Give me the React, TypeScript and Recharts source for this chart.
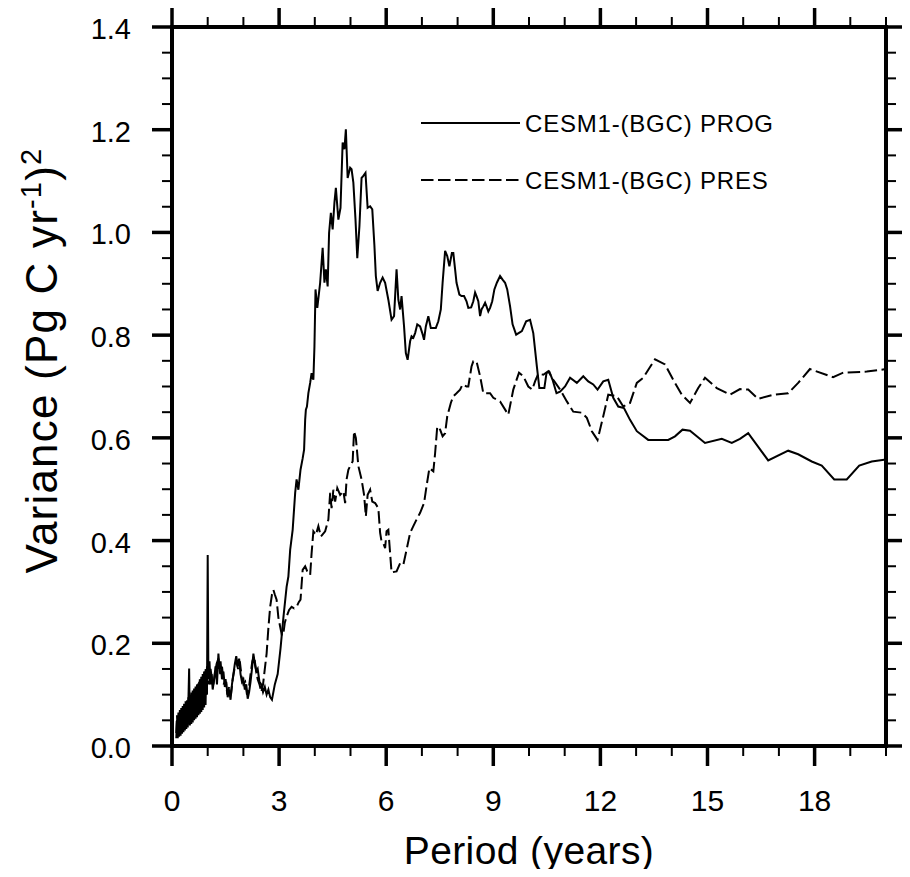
import { Legend, Line, LineChart, ReferenceArea, XAxis, YAxis } from 'recharts'

const FONT = '"Liberation Sans", Arial, Helvetica, sans-serif'

// [period (years), variance (Pg C yr^-1)^2]
const progPoints: [number, number][] = [
  [0.12, 0.015], [0.14, 0.05], [0.16, 0.015], [0.18, 0.055], [0.2, 0.018], [0.22, 0.06], [0.24, 0.02],
  [0.26, 0.065], [0.28, 0.024], [0.3, 0.07], [0.32, 0.027], [0.34, 0.075], [0.36, 0.03], [0.38, 0.08],
  [0.4, 0.033], [0.42, 0.085], [0.44, 0.036], [0.46, 0.09], [0.48, 0.151], [0.5, 0.04], [0.52, 0.095],
  [0.54, 0.043], [0.56, 0.1], [0.58, 0.046], [0.6, 0.105], [0.62, 0.05], [0.64, 0.11], [0.66, 0.053],
  [0.68, 0.115], [0.7, 0.056], [0.72, 0.12], [0.74, 0.06], [0.76, 0.125], [0.78, 0.063], [0.8, 0.13],
  [0.82, 0.066], [0.84, 0.135], [0.86, 0.07], [0.88, 0.14], [0.9, 0.075], [0.92, 0.145], [0.94, 0.08],
  [0.96, 0.15], [0.98, 0.1], [1.0, 0.372], [1.02, 0.13], [1.05, 0.165], [1.08, 0.12], [1.11, 0.14],
  [1.14, 0.11], [1.18, 0.13], [1.22, 0.155], [1.26, 0.12], [1.3, 0.18], [1.33, 0.15], [1.36, 0.165],
  [1.4, 0.13], [1.44, 0.145], [1.48, 0.115], [1.52, 0.125], [1.56, 0.095], [1.6, 0.11], [1.64, 0.09],
  [1.68, 0.12], [1.72, 0.14], [1.76, 0.16], [1.8, 0.175], [1.84, 0.155], [1.88, 0.17], [1.92, 0.14],
  [1.96, 0.125], [2.0, 0.13], [2.04, 0.11], [2.08, 0.12], [2.12, 0.092], [2.16, 0.105], [2.2, 0.125],
  [2.24, 0.15], [2.28, 0.18], [2.32, 0.16], [2.36, 0.145], [2.4, 0.15], [2.45, 0.125], [2.5, 0.12],
  [2.55, 0.105], [2.6, 0.115], [2.65, 0.1], [2.7, 0.11], [2.75, 0.095], [2.8, 0.09], [2.88, 0.12],
  [2.96, 0.14], [3.04, 0.19], [3.12, 0.25], [3.21, 0.31], [3.26, 0.33], [3.31, 0.382], [3.38, 0.421],
  [3.45, 0.493], [3.49, 0.519], [3.54, 0.499], [3.6, 0.538], [3.66, 0.56], [3.7, 0.577], [3.73, 0.635],
  [3.75, 0.655], [3.78, 0.661], [3.82, 0.687], [3.87, 0.707], [3.91, 0.726], [3.96, 0.713], [3.99, 0.778],
  [4.02, 0.889], [4.07, 0.853], [4.15, 0.902], [4.19, 0.941], [4.22, 0.97], [4.27, 0.902], [4.31, 0.928],
  [4.36, 0.895], [4.4, 0.999], [4.45, 1.038], [4.5, 1.006], [4.55, 1.058], [4.59, 1.087], [4.66, 1.025],
  [4.72, 1.048], [4.78, 1.175], [4.83, 1.162], [4.87, 1.201], [4.92, 1.106], [4.99, 1.126], [5.03, 1.123],
  [5.08, 1.097], [5.14, 1.025], [5.19, 0.95], [5.25, 1.012], [5.31, 1.106], [5.36, 1.11], [5.42, 1.116],
  [5.48, 1.048], [5.55, 1.051], [5.61, 1.045], [5.67, 0.974], [5.71, 0.915], [5.76, 0.886], [5.83, 0.902],
  [5.9, 0.912], [5.97, 0.902], [6.06, 0.869], [6.15, 0.83], [6.22, 0.837], [6.29, 0.928], [6.34, 0.869],
  [6.39, 0.85], [6.43, 0.876], [6.5, 0.817], [6.55, 0.765], [6.6, 0.752], [6.67, 0.788], [6.71, 0.798],
  [6.76, 0.795], [6.81, 0.804], [6.87, 0.821], [6.95, 0.817], [7.01, 0.804], [7.06, 0.791], [7.11, 0.817],
  [7.18, 0.837], [7.25, 0.814], [7.32, 0.814], [7.39, 0.814], [7.46, 0.827], [7.53, 0.85], [7.58, 0.902],
  [7.65, 0.964], [7.71, 0.954], [7.77, 0.934], [7.84, 0.96], [7.88, 0.96], [7.93, 0.928], [7.97, 0.902],
  [8.05, 0.879], [8.11, 0.876], [8.18, 0.876], [8.25, 0.866], [8.3, 0.853], [8.38, 0.854], [8.44, 0.866],
  [8.49, 0.883], [8.53, 0.876], [8.58, 0.866], [8.63, 0.837], [8.67, 0.85], [8.72, 0.856], [8.77, 0.863],
  [8.81, 0.856], [8.86, 0.846], [8.91, 0.853], [8.97, 0.866], [9.03, 0.889], [9.1, 0.902], [9.19, 0.915],
  [9.26, 0.908], [9.33, 0.902], [9.39, 0.889], [9.47, 0.856], [9.54, 0.821], [9.64, 0.801], [9.8, 0.808],
  [9.92, 0.827], [10.03, 0.83], [10.12, 0.804], [10.22, 0.739], [10.29, 0.697], [10.43, 0.697],
  [10.49, 0.726], [10.57, 0.729], [10.66, 0.713], [10.77, 0.687], [10.87, 0.69], [11.01, 0.7],
  [11.15, 0.717], [11.34, 0.707], [11.52, 0.72], [11.66, 0.71], [11.8, 0.704], [11.92, 0.694],
  [12.08, 0.71], [12.22, 0.713], [12.36, 0.678], [12.5, 0.661], [12.66, 0.658], [12.83, 0.635],
  [13.02, 0.613], [13.34, 0.596], [13.9, 0.596], [14.09, 0.603], [14.3, 0.616], [14.51, 0.614],
  [14.93, 0.59], [15.4, 0.598], [15.68, 0.59], [15.91, 0.598], [16.14, 0.609], [16.7, 0.556],
  [17.26, 0.575], [17.54, 0.568], [17.92, 0.554], [18.2, 0.546], [18.55, 0.519], [18.9, 0.519],
  [19.25, 0.546], [19.6, 0.554], [20.0, 0.558],
]

const presPoints: [number, number][] = [
  [0.12, 0.025], [0.14, 0.06], [0.16, 0.025], [0.18, 0.065], [0.2, 0.028], [0.22, 0.07], [0.24, 0.031],
  [0.26, 0.074], [0.28, 0.034], [0.3, 0.078], [0.32, 0.037], [0.34, 0.082], [0.36, 0.04], [0.38, 0.087],
  [0.4, 0.043], [0.42, 0.091], [0.44, 0.046], [0.46, 0.095], [0.48, 0.05], [0.5, 0.1], [0.52, 0.053],
  [0.54, 0.104], [0.56, 0.056], [0.58, 0.108], [0.6, 0.06], [0.62, 0.112], [0.64, 0.063], [0.66, 0.116],
  [0.68, 0.066], [0.7, 0.12], [0.72, 0.07], [0.74, 0.125], [0.76, 0.073], [0.78, 0.13], [0.8, 0.077],
  [0.82, 0.135], [0.84, 0.08], [0.86, 0.14], [0.88, 0.085], [0.9, 0.145], [0.92, 0.09], [0.94, 0.15],
  [0.96, 0.1], [0.98, 0.155], [1.0, 0.14], [1.04, 0.12], [1.08, 0.15], [1.12, 0.13], [1.16, 0.12],
  [1.2, 0.14], [1.25, 0.16], [1.3, 0.17], [1.35, 0.14], [1.4, 0.155], [1.45, 0.12], [1.5, 0.13],
  [1.55, 0.1], [1.6, 0.115], [1.65, 0.1], [1.7, 0.13], [1.75, 0.15], [1.8, 0.165], [1.85, 0.15],
  [1.9, 0.165], [1.95, 0.135], [2.0, 0.12], [2.05, 0.125], [2.1, 0.1], [2.15, 0.11], [2.2, 0.14],
  [2.25, 0.165], [2.3, 0.175], [2.35, 0.15], [2.4, 0.13], [2.45, 0.12], [2.5, 0.105], [2.55, 0.12],
  [2.6, 0.15], [2.65, 0.18], [2.7, 0.23], [2.75, 0.271], [2.8, 0.295], [2.84, 0.304], [2.88, 0.295],
  [2.93, 0.285], [2.98, 0.25], [3.03, 0.232], [3.08, 0.215], [3.12, 0.219], [3.16, 0.24], [3.21, 0.252],
  [3.28, 0.265], [3.35, 0.271], [3.42, 0.268], [3.49, 0.271], [3.55, 0.28], [3.6, 0.285], [3.66, 0.343],
  [3.73, 0.35], [3.79, 0.34], [3.87, 0.333], [3.91, 0.375], [3.96, 0.418], [4.03, 0.411], [4.1, 0.428],
  [4.17, 0.408], [4.29, 0.418], [4.38, 0.441], [4.43, 0.493], [4.47, 0.463], [4.52, 0.499], [4.57, 0.476],
  [4.63, 0.502], [4.71, 0.489], [4.8, 0.496], [4.85, 0.473], [4.89, 0.519], [4.94, 0.538], [5.01, 0.548],
  [5.06, 0.554], [5.1, 0.613], [5.15, 0.6], [5.22, 0.545], [5.31, 0.519], [5.38, 0.489], [5.43, 0.447],
  [5.48, 0.489], [5.55, 0.499], [5.61, 0.476], [5.69, 0.473], [5.78, 0.463], [5.83, 0.415], [5.87, 0.398],
  [5.92, 0.395], [5.97, 0.385], [6.01, 0.418], [6.06, 0.421], [6.11, 0.375], [6.15, 0.338], [6.29, 0.34],
  [6.39, 0.356], [6.48, 0.353], [6.57, 0.382], [6.67, 0.415], [6.76, 0.428], [6.85, 0.441], [6.95, 0.454],
  [7.06, 0.473], [7.13, 0.506], [7.21, 0.541], [7.32, 0.535], [7.37, 0.57], [7.43, 0.622], [7.51, 0.616],
  [7.58, 0.603], [7.65, 0.609], [7.71, 0.642], [7.81, 0.668], [7.88, 0.681], [7.97, 0.687], [8.07, 0.694],
  [8.14, 0.704], [8.25, 0.7], [8.3, 0.7], [8.39, 0.739], [8.44, 0.749], [8.53, 0.749], [8.63, 0.72],
  [8.72, 0.687], [8.91, 0.687], [9.0, 0.678], [9.19, 0.671], [9.42, 0.645], [9.56, 0.694], [9.72, 0.727],
  [9.84, 0.72], [9.98, 0.7], [10.09, 0.694], [10.17, 0.71], [10.26, 0.725], [10.4, 0.723], [10.54, 0.73],
  [10.68, 0.713], [10.87, 0.694], [11.06, 0.671], [11.24, 0.651], [11.48, 0.649], [11.62, 0.639],
  [11.76, 0.613], [11.92, 0.596], [12.08, 0.642], [12.22, 0.684], [12.46, 0.681], [12.64, 0.661],
  [12.83, 0.668], [13.02, 0.707], [13.2, 0.717], [13.53, 0.753], [13.81, 0.743], [14.04, 0.713],
  [14.28, 0.684], [14.51, 0.668], [14.74, 0.697], [14.93, 0.717], [15.26, 0.697], [15.63, 0.684],
  [15.91, 0.695], [16.14, 0.694], [16.42, 0.676], [16.84, 0.684], [17.26, 0.687], [17.54, 0.707],
  [17.87, 0.734], [18.52, 0.718], [18.8, 0.727], [19.46, 0.729], [20.0, 0.734],
]

const seriesNames = ['CESM1-(BGC) PROG', 'CESM1-(BGC) PRES']
const xMajor = [0, 3, 6, 9, 12, 15, 18]
const yMajor = [0, 0.2, 0.4, 0.6, 0.8, 1.0, 1.2, 1.4]
// minor ticks every year / every 0.05
const xTicks = Array.from({ length: 21 }, (_, i) => i)
const yTicks = Array.from({ length: 29 }, (_, i) => Number((i * 0.05).toFixed(2)))

const progData = progPoints.map(([p, v]) => ({ p, v }))
const presData = presPoints.map(([p, v]) => ({ p, v }))

const DASH = '12.5 4.5'
const isXMajor = (v: number) => xMajor.includes(v)
const isYMajor = (v: number) => yMajor.some((m) => Math.abs(m - v) < 1e-6)

function BottomTick({ x, y, payload }: any) {
  const major = isXMajor(payload.value)
  return (
    <g>
      <line x1={x} y1={y} x2={x} y2={y + (major ? 20 : 10)} stroke="#000" strokeWidth={major ? 3.5 : 2} />
      {major && (
        <text x={x} y={y + 65} textAnchor="middle" fontSize={30} fontFamily={FONT} fill="#000">
          {payload.value}
        </text>
      )}
    </g>
  )
}

function TopTick({ x, y, payload }: any) {
  const major = isXMajor(payload.value)
  return <line x1={x} y1={y} x2={x} y2={y - (major ? 20 : 10)} stroke="#000" strokeWidth={major ? 3.5 : 2} />
}

function LeftTick({ x, y, payload }: any) {
  const major = isYMajor(payload.value)
  return (
    <g>
      <line x1={x} y1={y} x2={x - (major ? 20 : 10)} y2={y} stroke="#000" strokeWidth={major ? 3.5 : 2} />
      {major && (
        <text x={x - 41} y={y + 12} textAnchor="end" fontSize={29} fontFamily={FONT} fill="#000">
          {payload.value.toFixed(1)}
        </text>
      )}
    </g>
  )
}

function RightTick({ x, y, payload }: any) {
  const major = isYMajor(payload.value)
  return <line x1={x} y1={y} x2={x + (major ? 20 : 10)} y2={y} stroke="#000" strokeWidth={major ? 3.5 : 2} />
}

function LegendBox() {
  return (
    <svg width={420} height={90}>
      {seriesNames.map((name, i) => (
        <g key={name} transform={`translate(0, ${15 + i * 57})`}>
          <line x1={0} x2={99} y1={0} y2={0} stroke="#000" strokeWidth={2} strokeDasharray={i ? DASH : undefined} />
          <text x={104} y={0} dy="0.36em" fontSize={24} letterSpacing={0.8} fontFamily={FONT} fill="#000">
            {name}
          </text>
        </g>
      ))}
    </svg>
  )
}

function XTitle({ viewBox }: any) {
  return (
    <text
      x={viewBox.x + viewBox.width / 2}
      y={viewBox.y + 118}
      textAnchor="middle"
      fontSize={39}
      letterSpacing={0.4}
      fontFamily={FONT}
      fill="#000"
    >
      Period (years)
    </text>
  )
}

function YTitle({ viewBox }: any) {
  const cy = viewBox.y + viewBox.height / 2 - 26
  return (
    <text
      transform={`translate(49, ${cy}) rotate(-90)`}
      textAnchor="middle"
      fontSize={44}
      letterSpacing={1.2}
      fontFamily={FONT}
      fill="#000"
    >
      Variance (Pg C yr
      <tspan dy={-16} fontSize={29}>-1</tspan>
      <tspan dy={16}>)</tspan>
      <tspan dy={-16} fontSize={29}>2</tspan>
    </text>
  )
}

// axes are 1px thick so they still render; all tick marks are drawn by the tick components
const axisCommon = {
  type: 'number' as const,
  allowDataOverflow: true,
  interval: 0 as const,
  axisLine: false,
  tickLine: false,
  tickSize: 0,
  tickMargin: 0,
}

export default function App() {
  return (
    <div style={{ width: 894, height: 861 }}>
      <LineChart width={894} height={869} margin={{ top: 18, right: 15, bottom: 130, left: 163 }}>
        <XAxis
          {...axisCommon}
          xAxisId="b"
          dataKey="p"
          domain={[0, 20]}
          ticks={xTicks}
          height={1}
          tick={BottomTick}
          label={{ content: XTitle }}
        />
        <XAxis
          {...axisCommon}
          xAxisId="t"
          orientation="top"
          dataKey="p"
          domain={[0, 20]}
          ticks={xTicks}
          height={1}
          tick={TopTick}
        />
        <YAxis
          {...axisCommon}
          yAxisId="l"
          domain={[0, 1.4]}
          ticks={yTicks}
          width={1}
          tick={LeftTick}
          label={{ content: YTitle }}
        />
        <YAxis
          {...axisCommon}
          yAxisId="r"
          orientation="right"
          domain={[0, 1.4]}
          ticks={yTicks}
          width={1}
          tick={RightTick}
        />
        <Line
          xAxisId="b"
          yAxisId="l"
          name={seriesNames[0]}
          data={progData}
          dataKey="v"
          type="linear"
          stroke="#000"
          strokeWidth={2}
          dot={false}
          isAnimationActive={false}
        />
        <Line
          xAxisId="t"
          yAxisId="r"
          name={seriesNames[1]}
          data={presData}
          dataKey="v"
          type="linear"
          stroke="#000"
          strokeWidth={2}
          strokeDasharray={DASH}
          dot={false}
          isAnimationActive={false}
        />
        <ReferenceArea
          xAxisId="b"
          yAxisId="l"
          x1={0}
          x2={20}
          y1={0}
          y2={1.4}
          fill="none"
          stroke="#000"
          strokeWidth={4}
        />
        <Legend
          layout="vertical"
          align="center"
          verticalAlign="middle"
          wrapperStyle={{ left: 412.7, top: 100.3, width: 420 }}
          content={() => <LegendBox />}
        />
      </LineChart>
    </div>
  )
}
